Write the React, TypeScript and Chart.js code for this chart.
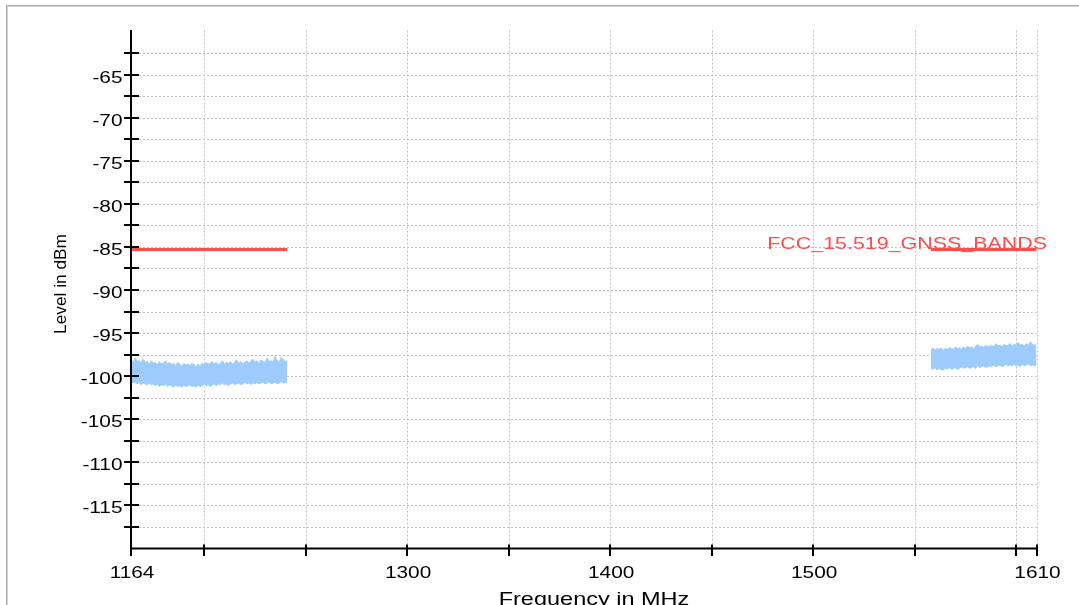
import React, { useEffect, useRef } from "react";
import { Chart, registerables } from "chart.js";

Chart.register(...registerables);

// ---- Axis definitions ----
const xMin = 1164;
const xMax = 1610;
const yMin = -120;
const yMax = -60;
const xTickValues = [1164, 1200, 1250, 1300, 1350, 1400, 1450, 1500, 1550, 1600, 1610];
const xLabelValues = [1164, 1300, 1400, 1500, 1610];
const yTickValues = [
  -62.5, -65, -67.5, -70, -72.5, -75, -77.5, -80, -82.5, -85, -87.5, -90, -92.5, -95, -97.5,
  -100, -102.5, -105, -107.5, -110, -112.5, -115, -117.5,
];
const yLabelValues = [-65, -70, -75, -80, -85, -90, -95, -100, -105, -110, -115];
const xTitle = "Frequency in MHz";
const yTitle = "Level in dBm";

// ---- Limit line ----
const limitLabel = "FCC_15.519_GNSS_BANDS";
const limitLevel = -85.3;
const limitBandA = [1164, 1241];
const limitBandB = [1558, 1610.5];

// ---- Measured noise envelope, band A (1164..1241 MHz, 1 MHz steps) ----
const bandAStart = 1164;
const bandAUpper = [
  -98.1, -98.4, -97.9, -98.3, -98.2, -98.5, -98.0, -98.4, -98.3, -98.6,
  -98.2, -98.5, -98.4, -98.7, -98.3, -98.6, -98.5, -98.2, -98.6, -98.4,
  -98.7, -98.5, -98.8, -98.4, -98.6, -98.9, -98.5, -98.7, -98.6, -98.8,
  -98.5, -98.7, -98.9, -98.6, -98.8, -98.5, -98.7, -98.4, -98.6, -98.5,
  -98.3, -98.6, -98.4, -98.7, -98.5, -98.2, -98.6, -98.4, -98.5, -98.3,
  -98.6, -98.4, -98.1, -98.5, -98.3, -98.6, -98.4, -98.2, -98.5, -98.3,
  -98.0, -98.4, -98.2, -98.5, -98.1, -98.3, -98.4, -97.9, -98.3, -98.2,
  -98.4, -97.7, -98.2, -98.4, -97.8, -98.1, -98.3, -98.2,
];
const bandALower = [
  -100.6, -100.8, -100.7, -100.9, -100.7, -101.0, -100.8, -100.9, -101.0, -100.8,
  -101.0, -100.9, -101.1, -100.9, -101.2, -101.0, -101.1, -100.9, -101.2, -101.0,
  -101.1, -101.3, -101.0, -101.2, -101.1, -101.3, -101.0, -101.2, -101.1, -101.0,
  -101.2, -101.1, -101.3, -101.0, -101.2, -101.1, -100.9, -101.1, -101.0, -101.2,
  -101.0, -100.9, -101.1, -100.9, -101.0, -100.8, -101.0, -100.9, -101.1, -100.9,
  -100.8, -101.0, -100.9, -100.8, -101.0, -100.9, -100.7, -100.9, -100.8, -101.0,
  -100.8, -100.9, -100.7, -100.9, -100.8, -100.7, -100.9, -100.8, -100.7, -100.9,
  -100.8, -100.7, -100.9, -100.8, -100.6, -100.8, -100.7, -100.8,
];

// ---- Measured noise envelope, band B (1558..1610 MHz, 1 MHz steps) ----
const bandBStart = 1558;
const bandBUpper = [
  -96.9, -96.7, -97.0, -96.8, -96.9, -96.7, -97.0, -96.8, -96.9, -96.7,
  -96.8, -96.9, -96.6, -96.8, -96.7, -96.9, -96.6, -96.8, -96.5, -96.7,
  -96.6, -96.8, -96.5, -96.3, -96.6, -96.5, -96.7, -96.4, -96.6, -96.5,
  -96.4, -96.6, -96.2, -96.5, -96.4, -96.6, -96.3, -96.5, -96.4, -96.2,
  -96.5, -96.3, -96.4, -96.1, -96.4, -96.3, -96.5, -96.2, -96.4, -96.0,
  -96.3, -96.4, -96.2,
];
const bandBLower = [
  -99.1, -99.2, -99.0, -99.3, -99.1, -99.2, -99.3, -99.1, -99.2, -99.0,
  -99.2, -99.1, -99.0, -99.2, -99.1, -98.9, -99.1, -99.0, -98.9, -99.1,
  -99.0, -98.9, -99.1, -98.8, -99.0, -98.9, -98.8, -99.0, -98.9, -98.8,
  -98.9, -98.7, -98.9, -98.8, -98.7, -98.9, -98.8, -98.6, -98.8, -98.7,
  -98.8, -98.6, -98.8, -98.7, -98.9, -98.6, -98.8, -98.7, -98.6, -98.8,
  -98.7, -98.8, -98.7,
];

const NOISE_COLOR = "#9dcbfb";
const LIMIT_COLOR = "#ff4d4d";
const FONT = '"Liberation Sans", Arial, Helvetica, sans-serif';
const STRETCH = 1.3;

const toPoints = (start: number, values: number[]) =>
  values.map((v, i) => ({ x: start + i, y: v }));

function drawText(
  ctx: CanvasRenderingContext2D,
  text: string,
  x: number,
  y: number,
  align: CanvasTextAlign,
  size: number,
  color: string,
  sx: number
) {
  ctx.save();
  ctx.translate(x, y);
  ctx.scale(sx, 1);
  ctx.font = `${size}px ${FONT}`;
  ctx.fillStyle = color;
  ctx.textAlign = align;
  ctx.textBaseline = "alphabetic";
  ctx.fillText(text, 0, 0);
  ctx.restore();
}

const framePlugin = {
  id: "frameAndAxes",
  beforeDatasetsDraw(chart: any) {
    const { ctx, chartArea: a, scales } = chart;
    const xs = scales.x;
    const ys = scales.y;
    ctx.save();
    ctx.strokeStyle = "#a9a9a9";
    ctx.lineWidth = 1.5;
    ctx.beginPath();
    ctx.moveTo(6.75, 605);
    ctx.lineTo(6.75, 5.75);
    ctx.lineTo(1079, 5.75);
    ctx.stroke();
    ctx.strokeStyle = "#c2c2c2";
    ctx.lineWidth = 1;
    ctx.setLineDash([2, 2]);
    xTickValues.forEach((v) => {
      if (v === xMin) return;
      const px = Math.round(xs.getPixelForValue(v)) + 0.5;
      ctx.beginPath();
      ctx.moveTo(px, a.top - 1);
      ctx.lineTo(px, a.bottom);
      ctx.stroke();
    });
    yTickValues.forEach((v) => {
      const py = Math.round(ys.getPixelForValue(v)) + 0.5;
      ctx.beginPath();
      ctx.moveTo(a.left, py);
      ctx.lineTo(a.right, py);
      ctx.stroke();
    });
    ctx.restore();
  },
  afterDatasetsDraw(chart: any) {
    const { ctx, chartArea: a, scales } = chart;
    const xs = scales.x;
    const ys = scales.y;
    ctx.save();
    ctx.setLineDash([]);
    ctx.strokeStyle = "#000";
    ctx.lineWidth = 2;
    ctx.beginPath();
    ctx.moveTo(a.left, a.top - 1.5);
    ctx.lineTo(a.left, a.bottom + 1);
    ctx.moveTo(a.left - 1, a.bottom);
    ctx.lineTo(a.right, a.bottom);
    ctx.stroke();
    yTickValues.forEach((v) => {
      const py = Math.round(ys.getPixelForValue(v));
      ctx.beginPath();
      ctx.moveTo(a.left - 7, py);
      ctx.lineTo(a.left + 8, py);
      ctx.stroke();
    });
    xTickValues.forEach((v) => {
      const px = Math.round(xs.getPixelForValue(v));
      ctx.beginPath();
      ctx.moveTo(px, a.bottom - 4);
      ctx.lineTo(px, a.bottom + 7.5);
      ctx.stroke();
    });
    yLabelValues.forEach((v) => {
      const py = ys.getPixelForValue(v);
      drawText(ctx, String(v), a.left - 8.5, py + 8, "right", 16, "#000", STRETCH);
    });
    xLabelValues.forEach((v) => {
      const px = xs.getPixelForValue(v);
      drawText(ctx, String(v), px + 1, a.bottom + 29, "center", 16, "#000", STRETCH);
    });
    drawText(ctx, xTitle, 594, 605, "center", 18.5, "#000", 1.27);
    ctx.save();
    ctx.translate(65.5, 284);
    ctx.rotate(-Math.PI / 2);
    ctx.scale(1.08, 1);
    ctx.font = `16px ${FONT}`;
    ctx.fillStyle = "#000";
    ctx.textAlign = "center";
    ctx.textBaseline = "alphabetic";
    ctx.fillText(yTitle, 0, 0);
    ctx.restore();
    const ly = ys.getPixelForValue(limitLevel);
    drawText(ctx, limitLabel, a.right + 10.5, ly - 0.5, "right", 17, LIMIT_COLOR, 1.26);
    ctx.restore();
  },
};

export default function App() {
  const canvasRef = useRef<HTMLCanvasElement | null>(null);

  useEffect(() => {
    if (!canvasRef.current) return;
    const noise = (label: string, start: number, values: number[], fill: any) => ({
      label,
      data: toPoints(start, values),
      borderColor: NOISE_COLOR,
      backgroundColor: NOISE_COLOR,
      borderWidth: 1,
      pointRadius: 0,
      tension: 0,
      fill,
    });
    const limit = (label: string, band: number[]) => ({
      label,
      data: band.map((f) => ({ x: f, y: limitLevel })),
      borderColor: LIMIT_COLOR,
      borderWidth: 3,
      borderCapStyle: "butt",
      pointRadius: 0,
      fill: false,
    });
    const chart = new Chart(canvasRef.current, {
      type: "line",
      data: {
        datasets: [
          noise("Band A max", bandAStart, bandAUpper, "+1"),
          noise("Band A min", bandAStart, bandALower, false),
          noise("Band B max", bandBStart, bandBUpper, "+1"),
          noise("Band B min", bandBStart, bandBLower, false),
          limit(limitLabel, limitBandA),
          limit(limitLabel + " B", limitBandB),
        ],
      },
      options: {
        responsive: false,
        maintainAspectRatio: false,
        devicePixelRatio: 1,
        animation: false,
        layout: { padding: { left: 131, top: 31.5, right: 42.5, bottom: 56.5 } },
        scales: {
          x: { type: "linear", min: xMin, max: xMax, display: false },
          y: { type: "linear", min: yMin, max: yMax, display: false },
        },
        plugins: {
          legend: { display: false },
          tooltip: { enabled: false },
        },
      },
      plugins: [framePlugin],
    } as any);
    return () => chart.destroy();
  }, []);

  return (
    <div style={{ position: "absolute", left: 0, top: 0, width: 1079, height: 605, background: "#fff" }}>
      <canvas ref={canvasRef} width={1079} height={605} style={{ display: "block" }} />
    </div>
  );
}
